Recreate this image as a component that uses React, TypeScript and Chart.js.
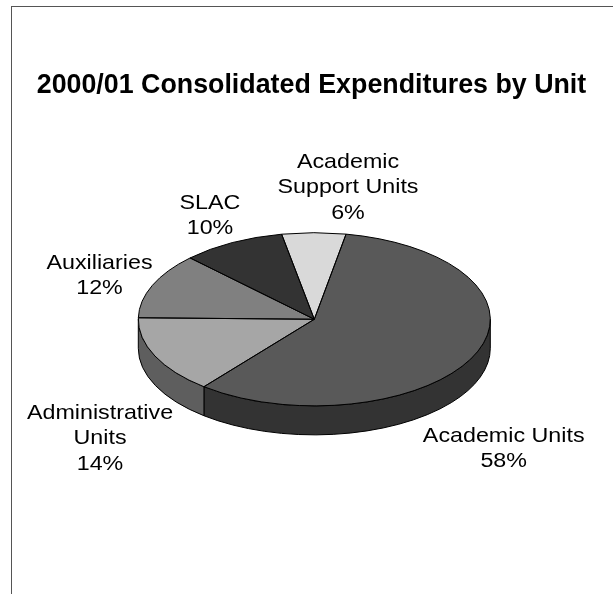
import React, { useEffect, useRef } from "react";
import { Chart, registerables } from "chart.js";

Chart.register(...registerables);

const titleText = "2000/01 Consolidated Expenditures by Unit";
const categories = ["Academic Units", "Administrative Units", "Auxiliaries", "SLAC", "Academic Support Units"];
const shares = [57.9, 14.49, 12.25, 9.5, 5.86];
const labelLines = [
  ["Academic Units", "58%"],
  ["Administrative", "Units", "14%"],
  ["Auxiliaries", "12%"],
  ["SLAC", "10%"],
  ["Academic", "Support Units", "6%"],
];
const topColours = ["#595959", "#a6a6a6", "#808080", "#333333", "#d9d9d9"];
const sideColours = ["#333333", "#5e5e5e", "#4d4d4d", "#262626", "#a0a0a0"];

const FONT = '"Liberation Sans", Arial, sans-serif';
const Y_SQUASH = 0.492;
const DEPTH = 29;
const CANVAS_LEFT = 10;
const LABEL_STRETCH = 1.125;
const labelCentres = [
  [493.7, 436],
  [90, 413],
  [89.5, 263],
  [200, 203],
  [338, 162],
];
const LINE_HEIGHT = 25.5;

const tiltPlugin = {
  id: "tilt",
  afterLayout(chart: any) {
    chart.titleBlock.left = 0;
    chart.titleBlock.right = chart.width;
  },
  beforeDatasetsDraw(chart: any) {
    const ctx = chart.ctx;
    const arcs = chart.getDatasetMeta(0).data;
    const { x: cx, y: cy, outerRadius: r } = arcs[0];
    const ry = r * Y_SQUASH;
    ctx.save();
    ctx.lineWidth = 1;
    ctx.strokeStyle = "#000";
    arcs.forEach((arc: any, i: number) => {
      const span = arc.endAngle - arc.startAngle;
      let s = arc.startAngle;
      while (s < -1e-6) s += Math.PI * 2;
      const ranges = [[s, s + span], [s - Math.PI * 2, s - Math.PI * 2 + span]];
      ranges.forEach(([a0, b0]) => {
        const a = Math.max(a0, 0);
        const b = Math.min(b0, Math.PI);
        if (b <= a) return;
        ctx.beginPath();
        ctx.ellipse(cx, cy, r, ry, 0, a, b);
        ctx.ellipse(cx, cy + DEPTH, r, ry, 0, b, a, true);
        ctx.closePath();
        ctx.fillStyle = sideColours[i];
        ctx.fill();
        ctx.stroke();
      });
    });
    ctx.restore();
    ctx.save();
    ctx.translate(cx, cy);
    ctx.scale(1, Y_SQUASH);
    ctx.translate(-cx, -cy);
  },
  afterDatasetsDraw(chart: any) {
    const ctx = chart.ctx;
    ctx.restore();
    const arcs = chart.getDatasetMeta(0).data;
    const { x: cx, y: cy, outerRadius: r } = arcs[0];
    ctx.save();
    ctx.lineWidth = 1;
    ctx.strokeStyle = "#000";
    arcs.forEach((arc: any) => {
      ctx.beginPath();
      ctx.moveTo(cx, cy);
      ctx.ellipse(cx, cy, r, r * Y_SQUASH, 0, arc.startAngle, arc.endAngle);
      ctx.closePath();
      ctx.stroke();
    });
    ctx.restore();
  },
  afterDraw(chart: any) {
    const ctx = chart.ctx;
    ctx.save();
    ctx.font = `20.7px ${FONT}`;
    ctx.fillStyle = "#000";
    ctx.textAlign = "center";
    ctx.textBaseline = "middle";
    labelLines.forEach((lines, i) => {
      lines.forEach((line, j) => {
        ctx.save();
        ctx.translate(labelCentres[i][0], labelCentres[i][1] + j * LINE_HEIGHT);
        ctx.scale(LABEL_STRETCH, 1);
        ctx.fillText(line, 0, 0);
        ctx.restore();
      });
    });
    ctx.restore();
  },
};

export default function App() {
  const ref = useRef<HTMLCanvasElement>(null);
  useEffect(() => {
    const chart = new Chart(ref.current!, {
      type: "pie",
      data: {
        labels: categories,
        datasets: [{ data: shares, backgroundColor: topColours, borderWidth: 0 }],
      },
      options: {
        responsive: false,
        animation: false,
        devicePixelRatio: 1,
        rotation: 10.4,
        layout: { padding: { left: 128.3, right: 122.7, top: 0, bottom: 98.7 } },
        events: [],
        plugins: {
          legend: { display: false },
          tooltip: { enabled: false },
          title: {
            display: true,
            text: titleText,
            color: "#000",
            font: { family: FONT, size: 26.8, weight: "bold" },
            padding: { top: 70, bottom: 41.1 },
          },
        },
      },
      plugins: [tiltPlugin],
    } as any);
    return () => chart.destroy();
  }, []);
  return (
    <div style={{ position: "fixed", left: 0, top: 0, width: 613, height: 594, overflow: "hidden", background: "#fff" }}>
      <div style={{ position: "absolute", left: 11, top: 6, right: 0, bottom: 0, borderLeft: "1px solid #555", borderTop: "1px solid #555" }} />
      <canvas ref={ref} width={603} height={594} style={{ position: "absolute", left: CANVAS_LEFT, top: 0, width: 603, height: 594 }} />
    </div>
  );
}
